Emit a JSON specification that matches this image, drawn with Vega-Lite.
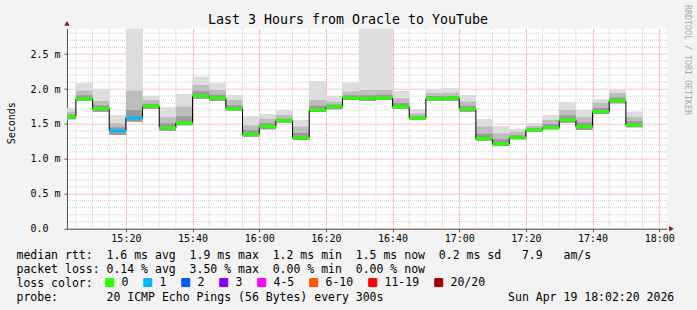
{
  "$schema": "https://vega.github.io/schema/vega-lite/v6.json",
  "width": 600,
  "height": 200,
  "autosize": {"type": "none"},
  "padding": {"left": 67, "top": 28.7, "right": 30, "bottom": 81.3},
  "background": "#f3f3f3",
  "config": {"view": {"fill": "#ffffff", "stroke": null}, "font": "DejaVu Sans Mono"},
  "datasets": {
    "pings": [
      {"start":"2026-04-19T15:00","end":"2026-04-19T15:05","lo":1.567,"med":1.605,"p75":1.635,"p90":1.676,"hi":1.725,"loss":"0"},
      {"start":"2026-04-19T15:05","end":"2026-04-19T15:10","lo":1.83,"med":1.858,"p75":1.91,"p90":1.977,"hi":2.083,"loss":"0"},
      {"start":"2026-04-19T15:10","end":"2026-04-19T15:15","lo":1.676,"med":1.72,"p75":1.77,"p90":1.83,"hi":2.001,"loss":"0"},
      {"start":"2026-04-19T15:15","end":"2026-04-19T15:20","lo":1.342,"med":1.404,"p75":1.45,"p90":1.51,"hi":1.629,"loss":"1"},
      {"start":"2026-04-19T15:20","end":"2026-04-19T15:25","lo":1.533,"med":1.586,"p75":1.70,"p90":1.977,"hi":3.0,"loss":"1"},
      {"start":"2026-04-19T15:25","end":"2026-04-19T15:30","lo":1.72,"med":1.753,"p75":1.79,"p90":1.844,"hi":1.901,"loss":"0"},
      {"start":"2026-04-19T15:30","end":"2026-04-19T15:35","lo":1.404,"med":1.443,"p75":1.51,"p90":1.605,"hi":1.739,"loss":"0"},
      {"start":"2026-04-19T15:35","end":"2026-04-19T15:40","lo":1.481,"med":1.514,"p75":1.61,"p90":1.748,"hi":1.93,"loss":"0"},
      {"start":"2026-04-19T15:40","end":"2026-04-19T15:45","lo":1.863,"med":1.901,"p75":1.97,"p90":2.059,"hi":2.178,"loss":"0"},
      {"start":"2026-04-19T15:45","end":"2026-04-19T15:50","lo":1.83,"med":1.872,"p75":1.92,"p90":1.987,"hi":2.083,"loss":"0"},
      {"start":"2026-04-19T15:50","end":"2026-04-19T15:55","lo":1.69,"med":1.72,"p75":1.77,"p90":1.844,"hi":1.915,"loss":"0"},
      {"start":"2026-04-19T15:55","end":"2026-04-19T16:00","lo":1.318,"med":1.352,"p75":1.41,"p90":1.481,"hi":1.615,"loss":"0"},
      {"start":"2026-04-19T16:00","end":"2026-04-19T16:05","lo":1.424,"med":1.461,"p75":1.51,"p90":1.576,"hi":1.639,"loss":"0"},
      {"start":"2026-04-19T16:05","end":"2026-04-19T16:10","lo":1.519,"med":1.547,"p75":1.58,"p90":1.629,"hi":1.70,"loss":"0"},
      {"start":"2026-04-19T16:10","end":"2026-04-19T16:15","lo":1.271,"med":1.304,"p75":1.37,"p90":1.461,"hi":1.557,"loss":"0"},
      {"start":"2026-04-19T16:15","end":"2026-04-19T16:20","lo":1.672,"med":1.705,"p75":1.76,"p90":1.844,"hi":2.116,"loss":"0"},
      {"start":"2026-04-19T16:20","end":"2026-04-19T16:25","lo":1.711,"med":1.748,"p75":1.78,"p90":1.82,"hi":1.901,"loss":"0"},
      {"start":"2026-04-19T16:25","end":"2026-04-19T16:30","lo":1.844,"med":1.872,"p75":1.91,"p90":1.963,"hi":2.092,"loss":"0"},
      {"start":"2026-04-19T16:30","end":"2026-04-19T16:35","lo":1.83,"med":1.863,"p75":1.91,"p90":1.987,"hi":3.0,"loss":"0"},
      {"start":"2026-04-19T16:35","end":"2026-04-19T16:40","lo":1.844,"med":1.872,"p75":1.92,"p90":1.987,"hi":3.0,"loss":"0"},
      {"start":"2026-04-19T16:40","end":"2026-04-19T16:45","lo":1.72,"med":1.748,"p75":1.80,"p90":1.868,"hi":1.973,"loss":"0"},
      {"start":"2026-04-19T16:45","end":"2026-04-19T16:50","lo":1.557,"med":1.582,"p75":1.61,"p90":1.653,"hi":1.711,"loss":"0"},
      {"start":"2026-04-19T16:50","end":"2026-04-19T16:55","lo":1.834,"med":1.863,"p75":1.90,"p90":1.94,"hi":2.001,"loss":"0"},
      {"start":"2026-04-19T16:55","end":"2026-04-19T17:00","lo":1.834,"med":1.872,"p75":1.90,"p90":1.948,"hi":2.011,"loss":"0"},
      {"start":"2026-04-19T17:00","end":"2026-04-19T17:05","lo":1.676,"med":1.715,"p75":1.76,"p90":1.82,"hi":1.915,"loss":"0"},
      {"start":"2026-04-19T17:05","end":"2026-04-19T17:10","lo":1.261,"med":1.289,"p75":1.36,"p90":1.461,"hi":1.572,"loss":"0"},
      {"start":"2026-04-19T17:10","end":"2026-04-19T17:15","lo":1.185,"med":1.213,"p75":1.28,"p90":1.367,"hi":1.471,"loss":"0"},
      {"start":"2026-04-19T17:15","end":"2026-04-19T17:20","lo":1.281,"med":1.304,"p75":1.34,"p90":1.39,"hi":1.424,"loss":"0"},
      {"start":"2026-04-19T17:20","end":"2026-04-19T17:25","lo":1.385,"med":1.414,"p75":1.44,"p90":1.471,"hi":1.51,"loss":"0"},
      {"start":"2026-04-19T17:25","end":"2026-04-19T17:30","lo":1.424,"med":1.447,"p75":1.50,"p90":1.557,"hi":1.629,"loss":"0"},
      {"start":"2026-04-19T17:30","end":"2026-04-19T17:35","lo":1.519,"med":1.557,"p75":1.62,"p90":1.70,"hi":1.811,"loss":"0"},
      {"start":"2026-04-19T17:35","end":"2026-04-19T17:40","lo":1.414,"med":1.461,"p75":1.52,"p90":1.605,"hi":1.70,"loss":"0"},
      {"start":"2026-04-19T17:40","end":"2026-04-19T17:45","lo":1.643,"med":1.676,"p75":1.73,"p90":1.805,"hi":1.858,"loss":"0"},
      {"start":"2026-04-19T17:45","end":"2026-04-19T17:50","lo":1.797,"med":1.834,"p75":1.88,"p90":1.94,"hi":1.987,"loss":"0"},
      {"start":"2026-04-19T17:50","end":"2026-04-19T17:55","lo":1.453,"med":1.486,"p75":1.54,"p90":1.605,"hi":1.676,"loss":"0"}
    ],
    "minorX": [
      {"t":"2026-04-19T15:05"},{"t":"2026-04-19T15:10"},{"t":"2026-04-19T15:15"},{"t":"2026-04-19T15:25"},{"t":"2026-04-19T15:30"},{"t":"2026-04-19T15:35"},{"t":"2026-04-19T15:45"},{"t":"2026-04-19T15:50"},{"t":"2026-04-19T15:55"},
      {"t":"2026-04-19T16:05"},{"t":"2026-04-19T16:10"},{"t":"2026-04-19T16:15"},{"t":"2026-04-19T16:25"},{"t":"2026-04-19T16:30"},{"t":"2026-04-19T16:35"},{"t":"2026-04-19T16:45"},{"t":"2026-04-19T16:50"},{"t":"2026-04-19T16:55"},
      {"t":"2026-04-19T17:05"},{"t":"2026-04-19T17:10"},{"t":"2026-04-19T17:15"},{"t":"2026-04-19T17:25"},{"t":"2026-04-19T17:30"},{"t":"2026-04-19T17:35"},{"t":"2026-04-19T17:45"},{"t":"2026-04-19T17:50"},{"t":"2026-04-19T17:55"}
    ],
    "minorY": [
      {"v":0.1},{"v":0.2},{"v":0.3},{"v":0.4},{"v":0.6},{"v":0.7},{"v":0.8},{"v":0.9},{"v":1.1},{"v":1.2},{"v":1.3},{"v":1.4},
      {"v":1.6},{"v":1.7},{"v":1.8},{"v":1.9},{"v":2.1},{"v":2.2},{"v":2.3},{"v":2.4},{"v":2.6},{"v":2.7},{"v":2.8}
    ]
  },
  "title": {"text": "Last 3 Hours from Oracle to YouTube", "font": "DejaVu Sans Mono", "fontSize": 13.3, "fontWeight": "normal", "color": "#000000", "anchor": "middle", "frame": "group", "dx": -19, "dy": 23.5, "offset": 2},
  "layer": [
    {
      "data": {"name": "pings"},
      "mark": {"type": "rect", "clip": true, "color": "#dddddd"},
      "encoding": {
        "x": {"field": "start", "type": "temporal",
          "scale": {"domain": ["2026-04-19T15:02:20", "2026-04-19T18:02:20"]},
          "axis": {"orient": "bottom", "grid": true, "gridColor": "#ee8c8c", "gridDash": [1, 1], "tickCount": 20,
            "values": [
              {"year": 2026, "month": 4, "date": 19, "hours": 15, "minutes": 20},
              {"year": 2026, "month": 4, "date": 19, "hours": 15, "minutes": 40},
              {"year": 2026, "month": 4, "date": 19, "hours": 16, "minutes": 0},
              {"year": 2026, "month": 4, "date": 19, "hours": 16, "minutes": 20},
              {"year": 2026, "month": 4, "date": 19, "hours": 16, "minutes": 40},
              {"year": 2026, "month": 4, "date": 19, "hours": 17, "minutes": 0},
              {"year": 2026, "month": 4, "date": 19, "hours": 17, "minutes": 20},
              {"year": 2026, "month": 4, "date": 19, "hours": 17, "minutes": 40},
              {"year": 2026, "month": 4, "date": 19, "hours": 18, "minutes": 0}
            ],
            "format": "%H:%M",
            "labelFont": "DejaVu Sans Mono", "labelFontSize": 10, "labelColor": "#000000", "labelPadding": 2, "labelFlush": false, "labelOverlap": false,
            "tickSize": 3, "tickColor": "#555555", "domainColor": "#555555",
            "title": ["median\u00a0rtt:\u00a0\u00a01.6\u00a0ms\u00a0avg\u00a0\u00a01.9\u00a0ms\u00a0max\u00a0\u00a01.2\u00a0ms\u00a0min\u00a0\u00a01.5\u00a0ms\u00a0now\u00a0\u00a00.2\u00a0ms\u00a0sd\u00a0\u00a0\u00a07.9\u00a0\u00a0\u00a0am/s",
                      "packet\u00a0loss:\u00a00.14\u00a0%\u00a0avg\u00a0\u00a03.50\u00a0%\u00a0max\u00a0\u00a00.00\u00a0%\u00a0min\u00a0\u00a00.00\u00a0%\u00a0now",
                      "loss\u00a0color:",
                      "probe:\u00a0\u00a0\u00a0\u00a0\u00a0\u00a0\u00a020\u00a0ICMP\u00a0Echo\u00a0Pings\u00a0(56\u00a0Bytes)\u00a0every\u00a0300s\u00a0\u00a0\u00a0\u00a0\u00a0\u00a0\u00a0\u00a0\u00a0\u00a0\u00a0\u00a0\u00a0\u00a0\u00a0\u00a0\u00a0\u00a0Sun\u00a0Apr\u00a019\u00a018:02:20\u00a02026"],
            "titleFont": "DejaVu Sans Mono", "titleFontSize": 11.5, "titleFontWeight": "normal", "titleColor": "#000000", "titleLineHeight": 14, "titleAlign": "left", "titleAnchor": "start", "titleBaseline": "alphabetic", "titleX": -51, "titleY": 29.8}},
        "x2": {"field": "end"},
        "y": {"field": "lo", "type": "quantitative",
          "scale": {"domain": [0, 2.865], "nice": false, "zero": false},
          "axis": {"orient": "left", "values": [0, 0.5, 1, 1.5, 2, 2.5], "tickCount": 12, "format": ".1f",
            "labelExpr": "datum.value == 0 ? '0.0' : datum.label + ' m'",
            "grid": true, "gridColor": "#ee8c8c", "gridDash": [1, 1],
            "labelFont": "DejaVu Sans Mono", "labelFontSize": 10, "labelColor": "#000000", "labelAlign": "left", "labelPadding": 34, "labelOverlap": false, "labelFlush": false,
            "tickSize": 3, "tickColor": "#555555", "domainColor": "#555555",
            "title": "Seconds", "titleFont": "DejaVu Sans Mono", "titleFontSize": 10, "titleFontWeight": "normal", "titleColor": "#000000", "titleX": -56, "titleY": 94, "titleAngle": -90, "titleAlign": "center", "titleBaseline": "middle"}},
        "y2": {"field": "hi"}
      }
    },
    {
      "data": {"name": "minorX"},
      "mark": {"type": "rule", "color": "#cfcfcf", "strokeDash": [1, 1], "strokeWidth": 1},
      "encoding": {"x": {"field": "t", "type": "temporal"}}
    },
    {
      "data": {"name": "minorY"},
      "mark": {"type": "rule", "color": "#cfcfcf", "strokeDash": [1, 1], "strokeWidth": 1},
      "encoding": {"y": {"field": "v", "type": "quantitative"}}
    },
    {
      "data": {"name": "pings"},
      "mark": {"type": "rect", "clip": true, "color": "#dddddd"},
      "encoding": {
        "x": {"field": "start", "type": "temporal"},
        "x2": {"field": "end"},
        "y": {"field": "lo", "type": "quantitative"},
        "y2": {"field": "hi"}
      }
    },
    {
      "data": {"name": "pings"},
      "mark": {"type": "rect", "clip": true, "color": "#bdbdbd"},
      "encoding": {
        "x": {"field": "start", "type": "temporal"},
        "x2": {"field": "end"},
        "y": {"field": "lo", "type": "quantitative"},
        "y2": {"field": "p90"}
      }
    },
    {
      "data": {"name": "pings"},
      "mark": {"type": "rect", "clip": true, "color": "#9a9a9a"},
      "encoding": {
        "x": {"field": "start", "type": "temporal"},
        "x2": {"field": "end"},
        "y": {"field": "lo", "type": "quantitative"},
        "y2": {"field": "p75"}
      }
    },
    {
      "data": {"name": "pings"},
      "mark": {"type": "line", "clip": true, "interpolate": "step-after", "color": "#000000", "strokeWidth": 1},
      "encoding": {
        "x": {"field": "start", "type": "temporal"},
        "y": {"field": "med", "type": "quantitative"}
      }
    },
    {
      "data": {"name": "pings"},
      "mark": {"type": "rule", "clip": true, "strokeWidth": 3},
      "encoding": {
        "x": {"field": "start", "type": "temporal"},
        "x2": {"field": "end"},
        "y": {"field": "med", "type": "quantitative"},
        "color": {"field": "loss", "type": "nominal",
          "scale": {"domain": ["0", "1", "2", "3", "4-5", "6-10", "11-19", "20/20"], "range": ["#26ff00", "#00b8ff", "#0059ff", "#7e00ff", "#ff00ff", "#ff5500", "#ff0000", "#a10000"]},
          "legend": {"orient": "none", "legendX": 37, "legendY": 248, "direction": "horizontal", "columns": 8, "title": null, "labelFont": "DejaVu Sans Mono", "labelFontSize": 11.5, "labelColor": "#000000", "labelOffset": 6, "symbolType": "square", "symbolSize": 64, "symbolStrokeColor": "#000000", "symbolStrokeWidth": 1, "columnPadding": 12, "padding": 0,
            "encode": {"symbols": {"update": {"fill": {"scale": "color", "field": "value"}, "fillOpacity": {"value": 1}}}}}}
      }
    },
    {
      "data": {"values": [{"t": "2026-04-19T18:03:40", "v": 0}]},
      "mark": {"type": "point", "shape": "triangle-right", "size": 30, "filled": true, "color": "#8b1a1a", "opacity": 1},
      "encoding": {
        "x": {"field": "t", "type": "temporal"},
        "y": {"field": "v", "type": "quantitative"}
      }
    },
    {
      "data": {"values": [{"t": "2026-04-19T15:02:20", "v": 2.94}]},
      "mark": {"type": "point", "shape": "triangle-up", "size": 30, "filled": true, "color": "#8b1a1a", "opacity": 1},
      "encoding": {
        "x": {"field": "t", "type": "temporal"},
        "y": {"field": "v", "type": "quantitative"}
      }
    },
    {
      "data": {"values": [{"t": "2026-04-19T18:08:20", "v": 2.417, "text": "RRDTOOL / TOBI OETIKER"}]},
      "mark": {"type": "text", "angle": 90, "align": "center", "baseline": "middle", "font": "DejaVu Sans Mono", "fontSize": 8.3, "color": "#aaaaaa"},
      "encoding": {
        "x": {"field": "t", "type": "temporal"},
        "y": {"field": "v", "type": "quantitative"},
        "text": {"field": "text"}
      }
    }
  ]
}
